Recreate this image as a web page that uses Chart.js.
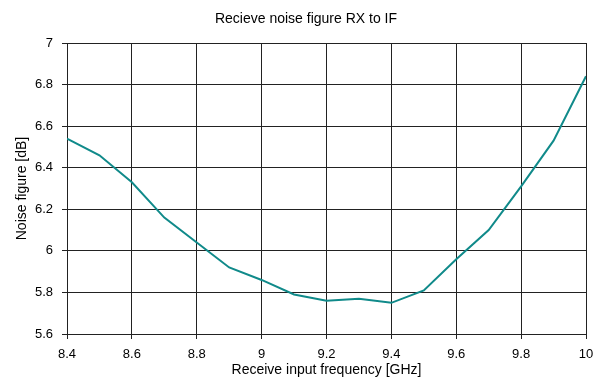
<!DOCTYPE html>
<html>
<head>
<meta charset="utf-8">
<script src="https://cdn.jsdelivr.net/npm/chart.js@4"></script>
<style>
  html, body { margin: 0; padding: 0; background: #fff; }
  #wrap { width: 603px; height: 385px; }
</style>
</head>
<body>
<div id="wrap"><canvas id="chart" width="603" height="385"></canvas></div>
<script>
// Data
const frequencies = [8.4, 8.5, 8.6, 8.7, 8.8, 8.9, 9.0, 9.1, 9.2, 9.3, 9.4, 9.5, 9.6, 9.7, 9.8, 9.9, 10.0];
const noiseFigure = [6.54, 6.46, 6.33, 6.16, 6.04, 5.92, 5.86, 5.79, 5.76, 5.77, 5.75, 5.81, 5.96, 6.10, 6.31, 6.53, 6.84];
const xTicks = [8.4, 8.6, 8.8, 9.0, 9.2, 9.4, 9.6, 9.8, 10];
const yTicks = [5.6, 5.8, 6.0, 6.2, 6.4, 6.6, 6.8, 7];

const chartTitle = "Recieve noise figure RX to IF";
const family = "'Liberation Sans', Arial, sans-serif";
const tickFont = { family, size: 13 };
const titleFont = { family, size: 14 };

// strip trailing ".0" like the reference (7, 6, 9, 10)
const fmt = (v) => String(Number(v.toFixed(1)));

// Title drawn at top of the canvas
const titlePlugin = {
  id: "topTitle",
  afterDraw(chart) {
    const ctx = chart.ctx;
    ctx.save();
    ctx.font = "14px " + family;
    ctx.fillStyle = "#000";
    ctx.textAlign = "center";
    ctx.textBaseline = "middle";
    ctx.fillText(chartTitle, 306, 19);
    ctx.restore();
  },
};

const ctx = document.getElementById("chart").getContext("2d");
new Chart(ctx, {
  type: "line",
  data: {
    datasets: [
      {
        data: frequencies.map((f, i) => ({ x: f, y: noiseFigure[i] })),
        borderColor: "#108a8a",
        borderWidth: 2,
        pointRadius: 0,
        tension: 0,
        fill: false,
      },
    ],
  },
  options: {
    responsive: false,
    animation: false,
    layout: { padding: { left: 0, top: 43, right: 17, bottom: 0 } },
    plugins: { legend: { display: false }, tooltip: { enabled: false } },
    scales: {
      x: {
        type: "linear",
        min: 8.4,
        max: 10,
        afterBuildTicks: (s) => { s.ticks = xTicks.map((v) => ({ value: v })); },
        afterFit: (s) => { s.height = 51; s.paddingLeft = 0; s.paddingRight = 0; },
        ticks: { color: "#000", font: tickFont, padding: 8, maxRotation: 0, autoSkip: false, callback: fmt },
        grid: { color: "#222", lineWidth: 1, tickLength: 5, tickColor: "#222" },
        border: { color: "#222", width: 1 },
        title: {
          display: true,
          text: "Receive input frequency [GHz]",
          color: "#000",
          font: titleFont,
          padding: { top: 0, bottom: 6 },
        },
      },
      y: {
        min: 5.6,
        max: 7,
        afterBuildTicks: (s) => { s.ticks = yTicks.map((v) => ({ value: v })); },
        afterFit: (s) => { s.width = 67; s.paddingTop = 0; s.paddingBottom = 0; },
        ticks: { color: "#000", font: tickFont, padding: 9, callback: fmt },
        grid: { color: "#222", lineWidth: 1, tickLength: 5, tickColor: "#222" },
        border: { color: "#222", width: 1 },
        title: {
          display: true,
          text: "Noise figure [dB]",
          color: "#000",
          font: titleFont,
          padding: { top: 14, bottom: 0 },
        },
      },
    },
  },
  plugins: [titlePlugin],
});
</script>
</body>
</html>
